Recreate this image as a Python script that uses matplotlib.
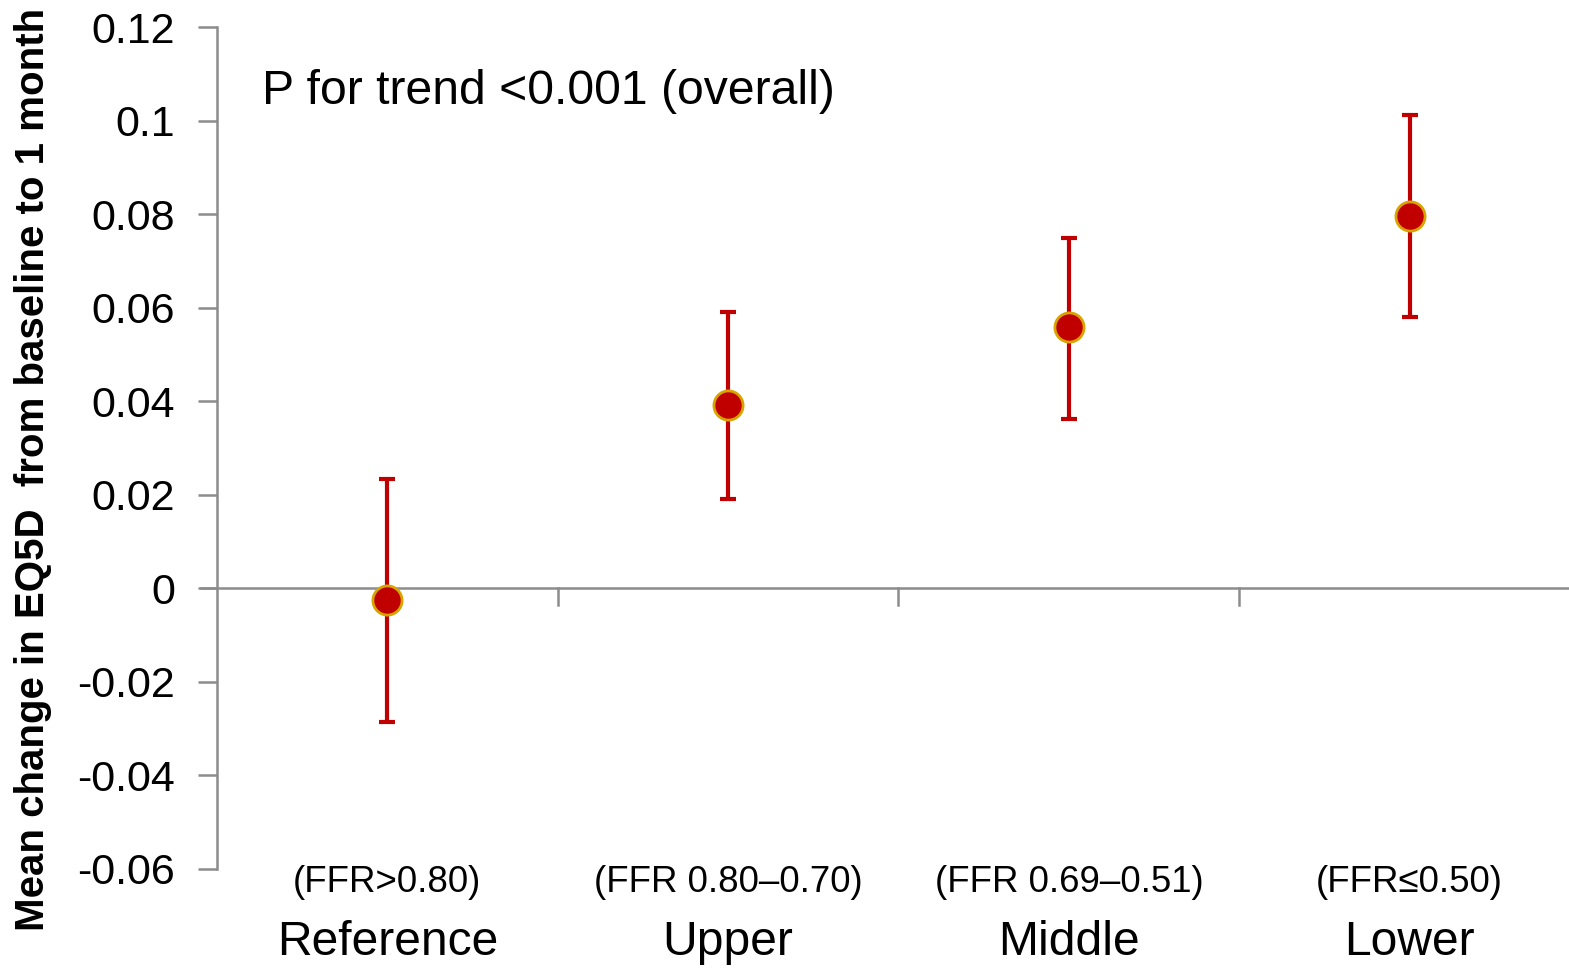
import matplotlib
matplotlib.use("Agg")
import matplotlib.pyplot as plt

plt.rcParams['font.family'] = ['Liberation Sans', 'DejaVu Sans']

groups = ["Reference", "Upper", "Middle", "Lower"]
ranges = ["(FFR>0.80)", "(FFR 0.80\u20130.70)", "(FFR 0.69\u20130.51)", "(FFR\u22640.50)"]
means = [-0.0026, 0.0391, 0.0558, 0.0797]
upper_ci = [0.0233, 0.0590, 0.0750, 0.1011]
lower_ci = [-0.0286, 0.0190, 0.0361, 0.0579]
yticks = [-0.06, -0.04, -0.02, 0, 0.02, 0.04, 0.06, 0.08, 0.1, 0.12]
ytick_labels = ["-0.06", "-0.04", "-0.02", "0", "0.02", "0.04", "0.06", "0.08", "0.1", "0.12"]

W, H = 1569, 969
fig = plt.figure(figsize=(W / 100, H / 100), dpi=100)
ax = fig.add_axes([217 / W, 1 - 869 / H, (1568 - 217) / W, (869 - 27) / H])

red = "#C00000"
gold = "#D9A400"
axc = "#8C8C8C"

xs = list(range(len(groups)))
err_lo = [m - l for m, l in zip(means, lower_ci)]
err_hi = [u - m for m, u in zip(means, upper_ci)]
ax.errorbar(xs, means, yerr=[err_lo, err_hi], fmt='none', ecolor=red,
            elinewidth=3, capsize=6, capthick=3, zorder=3)
ax.plot(xs, means, 'o', ms=21, mfc=red, mec=gold, mew=2, zorder=4, ls='none')

ax.set_xlim(-0.5, 3.465)
ax.set_ylim(-0.06, 0.12)

# zero line with ticks
ax.axhline(0, color=axc, lw=1.8, zorder=1, xmin=-0.012, clip_on=False)
for b in [0.5, 1.5, 2.5]:
    ax.plot([b, b], [0, -0.0035], color=axc, lw=1.8, zorder=1)

for s in ['top', 'right', 'bottom']:
    ax.spines[s].set_visible(False)
ax.spines['left'].set_color(axc)
ax.spines['left'].set_linewidth(1.8)
ax.set_xticks([])
ax.set_yticks(yticks)
ax.set_yticklabels(ytick_labels, fontsize=31)
ax.tick_params(axis='y', length=14, width=1.8, color=axc, pad=16)

ax.set_ylabel("Mean change in EQ5D  from baseline to 1 month", fontsize=29,
              fontweight='bold')
ax.yaxis.set_label_coords(-0.1225, 0.474)

for x, g, r in zip(xs, groups, ranges):
    ax.text(x, -0.0628, r, ha='center', va='center', fontsize=26.4, clip_on=False)
    ax.text(x, -0.0757, g, ha='center', va='center', fontsize=34.6, clip_on=False)

ax.text(262, 969 - 91, "P for trend <0.001 (overall)", fontsize=34.7,
        ha='left', va='center', transform=None)

fig.savefig("out.png", dpi=100)
